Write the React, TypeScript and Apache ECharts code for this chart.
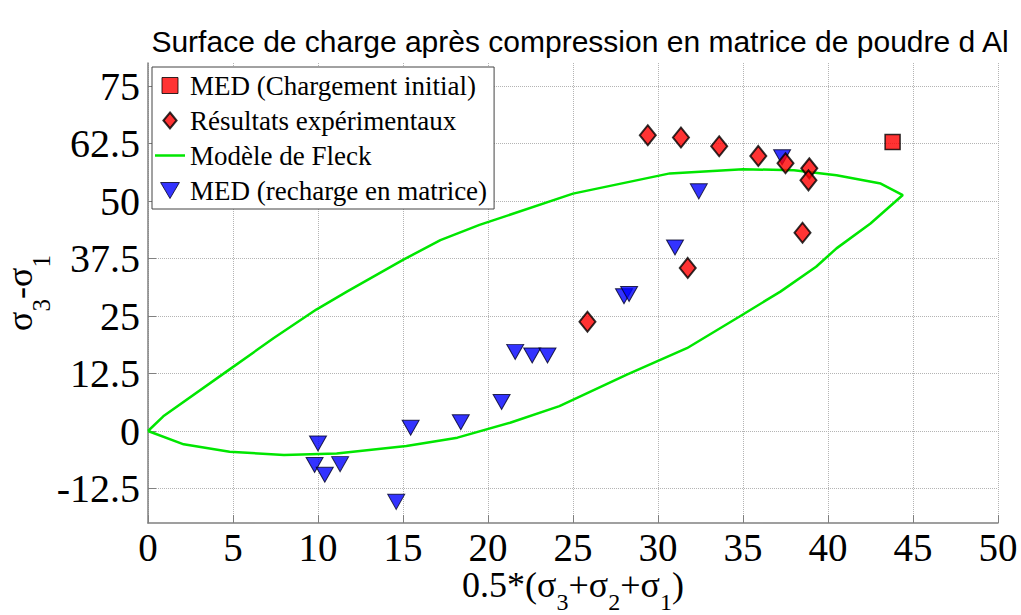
import React, { useEffect, useRef } from "react";
import * as echarts from "echarts";

const chartTitle = "Surface de charge après compression en matrice de poudre d Al";
const nameSquare = "MED (Chargement initial)";
const nameDiamond = "Résultats expérimentaux";
const nameFleck = "Modèle de Fleck";
const nameTriangle = "MED (recharge en matrice)";

const yTickValues = [-12.5, 0, 12.5, 25, 37.5, 50, 62.5, 75];

const squareData = [[43.8, 62.8]];

const diamondData = [
  [29.4, 64.3],
  [31.35, 63.8],
  [33.6, 61.9],
  [35.9, 59.8],
  [37.5, 58.2],
  [38.9, 57.1],
  [38.85, 54.5],
  [38.5, 43.1],
  [31.75, 35.45],
  [25.85, 23.75],
];

const triangleData = [
  [37.3, 59.5],
  [32.4, 52.1],
  [31.0, 39.9],
  [28.0, 29.3],
  [28.3, 29.8],
  [21.6, 17.2],
  [22.6, 16.4],
  [23.5, 16.4],
  [20.8, 6.3],
  [18.4, 1.9],
  [15.45, 0.7],
  [10.0, -2.7],
  [9.8, -7.4],
  [10.4, -9.5],
  [11.3, -7.2],
  [14.6, -15.4],
];

const fleckData = [
  [0, 0],
  [0.9, 3.2],
  [4.8, 13.4],
  [7.4, 20.2],
  [9.9, 26.4],
  [11.7, 30.3],
  [15.0, 37.2],
  [17.2, 41.5],
  [19.5, 44.8],
  [25.0, 51.6],
  [30.7, 56.0],
  [35.0, 56.9],
  [38.0, 56.7],
  [40.5, 55.6],
  [43.1, 53.8],
  [44.4, 51.3],
  [42.5, 45.1],
  [40.5, 39.7],
  [39.3, 35.7],
  [37.2, 30.3],
  [34.8, 24.9],
  [31.7, 18.0],
  [28.2, 12.3],
  [24.2, 5.4],
  [21.3, 1.8],
  [18.2, -1.45],
  [15.2, -3.25],
  [11.1, -4.9],
  [8.0, -5.2],
  [4.8, -4.5],
  [2.1, -2.9],
  [0, 0],
];

const SERIF = "'Liberation Serif', 'Times New Roman', serif";
const SANS = "'Liberation Sans', Arial, sans-serif";
const triPath = "path://M0,0L20,0L10,17Z";
const GREEN = "#00e600";

const richX = {
  n: { fontFamily: SERIF, fontSize: 36, color: "#000", verticalAlign: "top", lineHeight: 36 },
  s: { fontFamily: SERIF, fontSize: 24, color: "#000", verticalAlign: "top", lineHeight: 20, padding: [23, 0, 0, 0] },
};
const richY = {
  n: { fontFamily: SERIF, fontSize: 36, color: "#000", verticalAlign: "top", lineHeight: 36 },
  s: { fontFamily: SERIF, fontSize: 25, color: "#000", verticalAlign: "top", lineHeight: 20, padding: [27, 0, 0, 0] },
};

export default function App() {
  const ref = useRef<HTMLDivElement>(null);
  useEffect(() => {
    document.body.style.margin = "0";
    const chart = echarts.init(ref.current!, null, { renderer: "svg" });
    chart.setOption({
      animation: false,
      backgroundColor: "#fff",
      title: {
        text: chartTitle,
        left: 575,
        textAlign: "center",
        top: 21,
        textStyle: { fontFamily: SANS, fontSize: 30, fontWeight: "normal", color: "#000" },
      },
      legend: {
        orient: "vertical",
        left: 152,
        top: 67,
        data: [
          { name: nameSquare, icon: "path://M0,0L10,0L10,10L0,10Z", itemStyle: { color: "#ff0000", borderColor: "#000", borderWidth: 1 } },
          { name: nameDiamond, icon: "path://M7,0L14,8.5L7,17L0,8.5Z", itemStyle: { color: "#ff0000", borderColor: "#000", borderWidth: 2 } },
          { name: nameFleck, icon: "path://M0,0L30,0L30,2.5L0,2.5Z", itemStyle: { color: GREEN, borderWidth: 0 } },
          { name: nameTriangle, icon: triPath, itemStyle: { color: "#0000ff", borderColor: "#000022", borderWidth: 1 } },
        ],
        backgroundColor: "#fff",
        borderColor: "#444",
        borderWidth: 1,
        borderRadius: 0,
        padding: [5, 7, 5, 3],
        itemGap: 8,
        itemWidth: 30,
        itemHeight: 16,
        textStyle: { fontFamily: SERIF, fontSize: 27, color: "#000" },
      },
      grid: { left: 148, right: 23, top: 63, bottom: 92, outerBoundsMode: "none", containLabel: false },
      xAxis: {
        type: "value",
        min: 0,
        max: 50,
        interval: 5,
        axisLine: { onZero: false, lineStyle: { color: "#808080", width: 1.5 } },
        axisTick: { inside: true, length: 8, lineStyle: { color: "#808080" } },
        axisLabel: { fontFamily: SERIF, fontSize: 39, color: "#000", margin: 5 },
        splitLine: { show: true, lineStyle: { type: "dotted", color: "#b4b4b4", width: 1 } },
        name: "{n|0.5*(σ}{s|3}{n|+σ}{s|2}{n|+σ}{s|1}{n|)}",
        nameLocation: "middle",
        nameGap: 44,
        nameMoveOverlap: false,
        nameTextStyle: { rich: richX },
      },
      yAxis: {
        type: "value",
        min: -20,
        max: 80,
        axisLine: { onZero: false, lineStyle: { color: "#808080", width: 1.5 } },
        axisTick: { inside: true, length: 8, lineStyle: { color: "#808080" }, customValues: yTickValues },
        axisLabel: { fontFamily: SERIF, fontSize: 40, color: "#000", margin: 8, customValues: yTickValues },
        splitLine: { show: true, lineStyle: { type: "dotted", color: "#b4b4b4", width: 1 } },
        name: "{n|σ}{s|3}{n|-σ}{s|1}",
        nameLocation: "middle",
        nameGap: 110,
        nameMoveOverlap: false,
        nameTextStyle: { rich: richY },
      },
      series: [
        {
          name: nameFleck,
          type: "line",
          data: fleckData,
          symbol: "none",
          lineStyle: { color: GREEN, width: 2.5 },
          itemStyle: { color: GREEN },
          z: 2,
        },
        {
          name: nameTriangle,
          type: "scatter",
          data: triangleData,
          symbol: triPath,
          symbolSize: [17, 15],
          itemStyle: { color: "#0000ff", borderColor: "#000022", borderWidth: 1 },
          z: 3,
        },
        {
          name: nameDiamond,
          type: "scatter",
          data: diamondData,
          symbol: "diamond",
          symbolSize: [16, 20],
          itemStyle: { color: "#ff0000", borderColor: "#000", borderWidth: 2 },
          z: 4,
        },
        {
          name: nameSquare,
          type: "scatter",
          data: squareData,
          symbol: "rect",
          symbolSize: 15,
          itemStyle: { color: "#ff0000", borderColor: "#000", borderWidth: 1.5 },
          z: 5,
        },
      ],
    });
    return () => chart.dispose();
  }, []);
  return <div ref={ref} style={{ width: 1021, height: 615 }} />;
}
